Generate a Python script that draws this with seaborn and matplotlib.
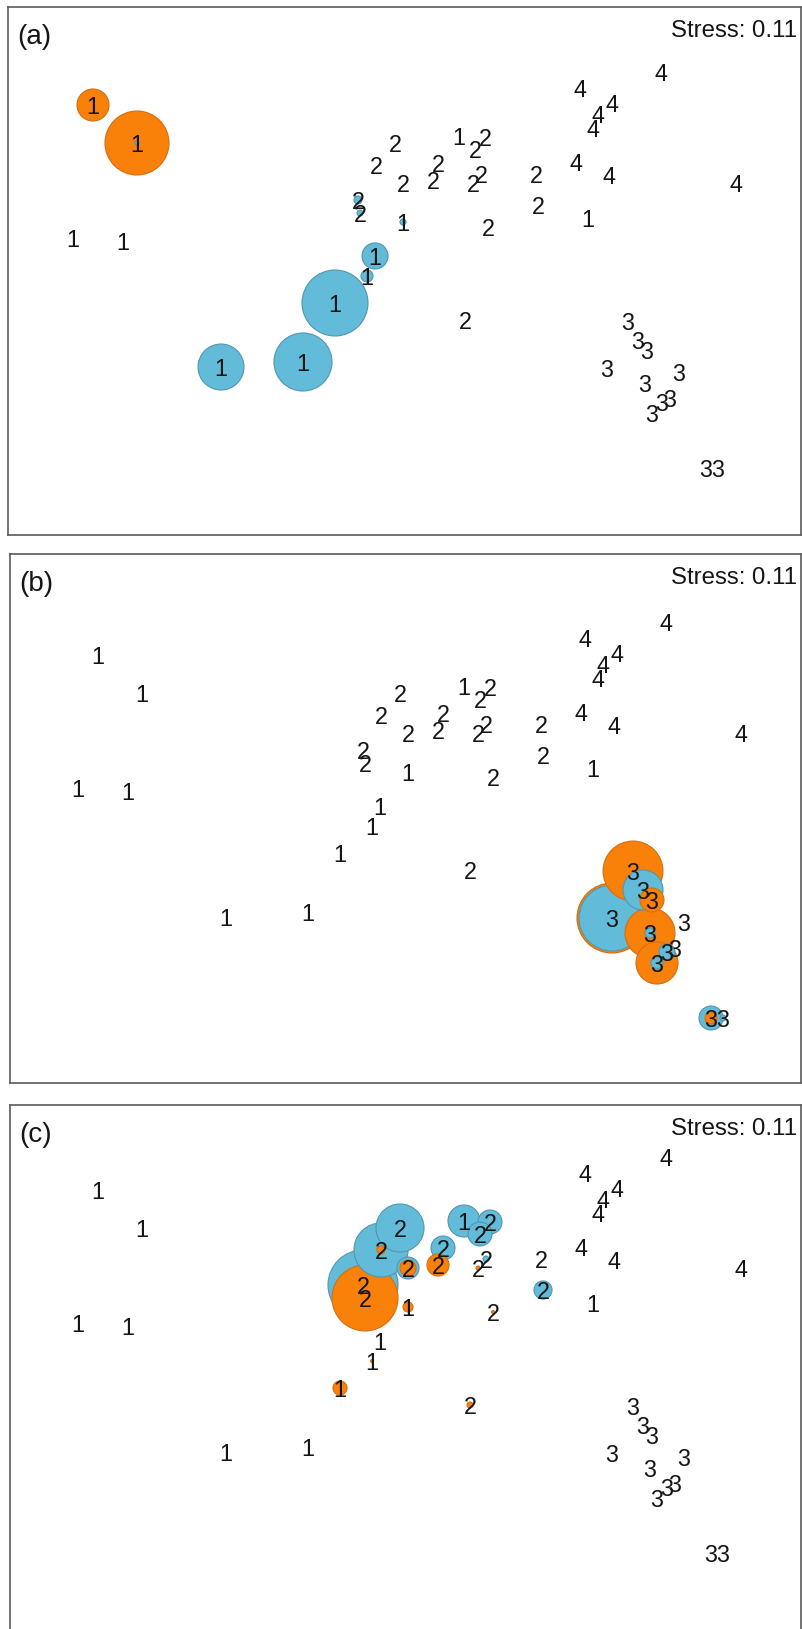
import numpy as np
import pandas as pd
import matplotlib
matplotlib.use("Agg")
import matplotlib.pyplot as plt
import matplotlib.transforms as mtransforms
import seaborn as sns

sns.set_style("white")
plt.rcParams["font.family"] = ["Liberation Sans", "DejaVu Sans"]

# ---- NMDS site scores (one ordination shared by all three panels) ----
nmds1 = [-1.228, -1.052, -1.308, -1.108, -0.716, -0.388, -0.260, -0.132, -0.100, 0.012, 0.236, 0.752,
         -0.020, -0.096, -0.168, -0.160, 0.012, 0.152, 0.132, 0.340, 0.300, 0.324, 0.292, 0.544, 0.552, 0.352, 0.260,
         0.912, 0.952, 0.988, 0.828, 1.116, 0.980, 1.048, 1.080, 1.008, 1.224, 1.272,
         1.044, 0.720, 0.848, 0.792, 0.772, 0.704, 0.836, 1.344]
nmds2 = [0.660, 0.508, 0.128, 0.116, -0.388, -0.368, -0.132, -0.024, 0.056, 0.192, 0.536, 0.208,
         0.508, 0.420, 0.280, 0.228, 0.348, 0.428, 0.360, 0.532, 0.484, 0.384, 0.348, 0.384, 0.260, 0.172, -0.200,
         -0.204, -0.280, -0.320, -0.392, -0.408, -0.452, -0.528, -0.512, -0.572, -0.792, -0.792,
         0.792, 0.728, 0.668, 0.624, 0.568, 0.432, 0.380, 0.348]
site_group = [1] * 12 + [2] * 15 + [3] * 11 + [4] * 8
stress = 0.11
panel_tags = ["(a)", "(b)", "(c)"]

# ---- abundances shown as bubbles: site index and value, per panel ----
a_orange_site = [0, 1]
a_orange_val = [16, 64]
a_blue_site = [1, 14, 15, 9, 8, 7, 6, 5, 4]
a_blue_val = [0.25, 1.0, 0.56, 0.56, 10.6, 2.25, 68, 52.6, 33]

b_orange_site = [27, 29, 30, 32, 35, 36]
b_orange_val = [56, 9, 76.6, 39, 27.6, 2.25]
b_blue_site = [28, 30, 32, 35, 33, 36, 37]
b_blue_val = [25, 68, 1.56, 2.25, 4, 9, 0.56]

c_orange_site = [13, 15, 18, 16, 22, 25, 9, 7, 6, 26]
c_orange_val = [1.0, 68, 7.6, 4, 0.25, 0.14, 1.56, 0.14, 3.1, 0.56]
c_blue_site = [12, 13, 14, 10, 19, 20, 17, 16, 21, 24]
c_blue_val = [36, 45.6, 76.6, 16, 9, 9, 9, 7.6, 0.56, 5.1]

panels_orange = [(a_orange_site, a_orange_val), (b_orange_site, b_orange_val), (c_orange_site, c_orange_val)]
panels_blue = [(a_blue_site, a_blue_val), (b_blue_site, b_blue_val), (c_blue_site, c_blue_val)]

# ---- styling ----
fill = {"orange": "#F98009", "blue": "#63BBDA"}
edge = {"orange": "#D46F10", "blue": "#5296AE"}
W, H = 803, 1629
boxes = [(8, 7, 801, 535), (10, 554, 801, 1083), (10, 1105, 801, 1634)]
xlims = [(-1.568, 1.604), (-1.580, 1.584), (-1.580, 1.584)]
ylims = [(-1.060, 1.052), (-1.052, 1.064), (-1.116, 1.000)]
max_area = (80 * 0.72) ** 2   # marker area (pt^2) for an abundance of 100

fig = plt.figure(figsize=(W / 100, H / 100), dpi=100)

for k in range(3):
    x0, y0, x1, y1 = boxes[k]
    ax = fig.add_axes([x0 / W, 1 - y1 / H, (x1 - x0) / W, (y1 - y0) / H])

    rows = []
    for taxon, (sites, vals) in (("orange", panels_orange[k]), ("blue", panels_blue[k])):
        for s, v in zip(sites, vals):
            rows.append({"NMDS1": nmds1[s], "NMDS2": nmds2[s], "taxon": taxon, "abund": v})
    bub = pd.DataFrame(rows).sort_values("abund", ascending=False, kind="stable").reset_index(drop=True)

    sns.scatterplot(data=bub, x="NMDS1", y="NMDS2", hue="taxon", palette=fill,
                    size="abund", sizes=(0, max_area), size_norm=(0, 100),
                    legend=False, linewidth=0.8, ax=ax, zorder=2)
    coll = ax.collections[-1]
    coll.set_edgecolors([edge[t] for t in bub["taxon"]])
    coll.set_facecolors([fill[t] for t in bub["taxon"]])

    # site labels (group numbers)
    trans = mtransforms.offset_copy(ax.transData, fig=fig, y=-1.6, units="points")
    for xi, yi, g in zip(nmds1, nmds2, site_group):
        ax.text(xi, yi, str(g), ha="center", va="center", fontsize=16.8,
                color="#151515", transform=trans, zorder=3)

    ax.text(0.995, 0.955, f"Stress: {stress:.2f}", ha="right", va="center",
            fontsize=17.3, color="#151515", transform=ax.transAxes)
    ax.text(0.012, 0.943, panel_tags[k], ha="left", va="center",
            fontsize=20, color="#151515", transform=ax.transAxes)

    ax.set_xlim(*xlims[k])
    ax.set_ylim(*ylims[k])
    ax.set(xlabel="", ylabel="", xticks=[], yticks=[])
    for sp in ax.spines.values():
        sp.set_color("#5a5a5a")
        sp.set_linewidth(1.2)
        sp.set_visible(True)

fig.savefig("out.png", dpi=100)
